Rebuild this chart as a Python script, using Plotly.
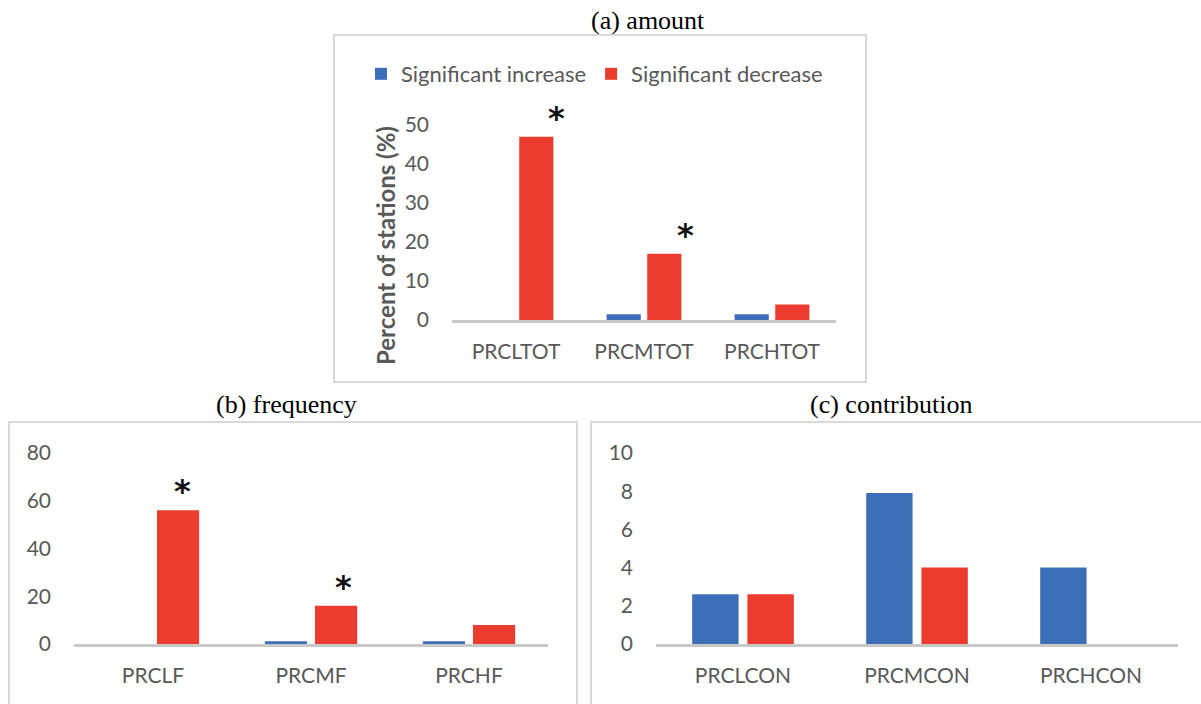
import plotly.graph_objects as go

W, H = 1201, 704

# ---- data ----
amount_cats = ["PRCLTOT", "PRCMTOT", "PRCHTOT"]
amount_increase = [0, 1.5, 1.5]
amount_decrease = [47, 17, 4]
amount_signif = ["PRCLTOT", "PRCMTOT"]

freq_cats = ["PRCLF", "PRCMF", "PRCHF"]
freq_increase = [0, 1.2, 1.2]
freq_decrease = [56, 16, 8]
freq_signif = ["PRCLF", "PRCMF"]

contrib_cats = ["PRCLCON", "PRCMCON", "PRCHCON"]
contrib_increase = [2.6, 7.9, 4]
contrib_decrease = [2.6, 4, 0]

series_names = ["Significant increase", "Significant decrease"]
panel_titles = ["(a) amount", "(b) frequency", "(c) contribution"]
y_title = "Percent of stations (%)"

# ---- style ----
BLUE = "#3D6FB8"
ORANGE = "#EC3B2F"
GRAY_TXT = "#595959"
FONT = "Lato"


def px_x(p):
    return p / W


def px_y(p):
    return 1 - p / H


fig = go.Figure()

panels = [
    dict(cats=amount_cats, inc=amount_increase, dec=amount_decrease, xa="x", ya="y", legend=True),
    dict(cats=freq_cats, inc=freq_increase, dec=freq_decrease, xa="x2", ya="y2", legend=False),
    dict(cats=contrib_cats, inc=contrib_increase, dec=contrib_decrease, xa="x3", ya="y3", legend=False),
]

for p in panels:
    fig.add_trace(go.Bar(
        x=p["cats"], y=p["inc"], name=series_names[0],
        marker=dict(color=BLUE, line=dict(width=0)),
        xaxis=p["xa"], yaxis=p["ya"], showlegend=p["legend"], legendgroup="inc",
    ))
    fig.add_trace(go.Bar(
        x=p["cats"], y=p["dec"], name=series_names[1],
        marker=dict(color=ORANGE, line=dict(width=0)),
        xaxis=p["xa"], yaxis=p["ya"], showlegend=p["legend"], legendgroup="dec",
    ))

tickfont = dict(family=FONT, size=21, color=GRAY_TXT)

xcommon = dict(type="category", range=[-0.5, 2.5], showline=True, linecolor="#C8C8C8",
               linewidth=3, showgrid=False, ticks="", tickfont=tickfont,
               ticklabelstandoff=11, fixedrange=True, automargin=False)
ycommon = dict(showline=False, showgrid=False, zeroline=False, ticks="",
               tickfont=tickfont, ticklabelstandoff=22, fixedrange=True, automargin=False)

fig.update_layout(
    width=W, height=H,
    margin=dict(l=0, r=0, t=0, b=0, pad=0, autoexpand=False),
    paper_bgcolor="white", plot_bgcolor="white",
    barmode="group", bargap=0.365, bargroupgap=0.16,
    font=dict(family=FONT, color=GRAY_TXT),
    xaxis=dict(domain=[px_x(452), px_x(836)], anchor="y", **xcommon),
    yaxis=dict(domain=[px_y(320), px_y(125)], range=[0, 50], dtick=10, anchor="x", **ycommon),
    xaxis2=dict(domain=[px_x(74), px_x(548)], anchor="y2", **xcommon),
    yaxis2=dict(domain=[px_y(644), px_y(453)], range=[0, 80], dtick=20, anchor="x2", **ycommon),
    xaxis3=dict(domain=[px_x(656), px_x(1178)], anchor="y3", **xcommon),
    yaxis3=dict(domain=[px_y(644), px_y(453)], range=[0, 10], dtick=2, anchor="x3", **ycommon),
    legend=dict(orientation="h", x=px_x(361), xanchor="left", y=px_y(74), yanchor="middle",
                font=dict(family=FONT, size=22, color=GRAY_TXT), bgcolor="rgba(0,0,0,0)",
                traceorder="normal"),
)

# y-axis title of panel (a)
fig.add_annotation(text="<b>" + y_title + "</b>", x=px_x(386), y=px_y(246), xref="paper", yref="paper",
                   textangle=-90, showarrow=False, xanchor="center", yanchor="middle",
                   font=dict(family=FONT, size=24, color=GRAY_TXT))

# panel frames (light gray)
frame = dict(type="rect", xref="paper", yref="paper", line=dict(color="#D9D9D9", width=2),
             fillcolor="rgba(0,0,0,0)", layer="below")
fig.add_shape(x0=px_x(334), x1=px_x(866), y0=px_y(382), y1=px_y(35), **frame)
fig.add_shape(x0=px_x(9), x1=px_x(577), y0=px_y(710), y1=px_y(422), **frame)
fig.add_shape(x0=px_x(591), x1=px_x(1210), y0=px_y(710), y1=px_y(422), **frame)

# panel titles
title_font = dict(family="Liberation Serif", size=26, color="black")
for txt, cx, cy in zip(panel_titles, [648, 286, 891], [21, 404, 404]):
    fig.add_annotation(text=txt, x=px_x(cx), y=px_y(cy), xref="paper", yref="paper",
                       showarrow=False, font=title_font, xanchor="center", yanchor="middle")

# significance asterisks above the decrease bars
star_font = dict(family="DejaVu Sans", size=32, color="#111111", weight="bold")
for cat, shift in zip(amount_signif, [40, 41]):
    val = amount_decrease[amount_cats.index(cat)]
    fig.add_annotation(text="*", x=cat, y=val, xref="x", yref="y", showarrow=False,
                       font=star_font, xshift=shift, yshift=-2, yanchor="bottom")
for cat, shift in zip(freq_signif, [29, 32]):
    val = freq_decrease[freq_cats.index(cat)]
    fig.add_annotation(text="*", x=cat, y=val, xref="x2", yref="y2", showarrow=False,
                       font=star_font, xshift=shift, yshift=-2, yanchor="bottom")

fig.write_html("out.html", config={"displayModeBar": False},
               post_script="document.body.style.margin='0px';")
